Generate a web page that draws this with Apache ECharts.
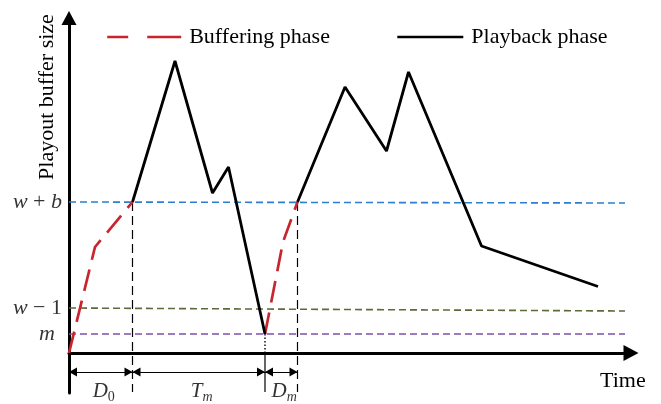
<!DOCTYPE html>
<html><head><meta charset="utf-8">
<script src="https://cdn.jsdelivr.net/npm/echarts@6/dist/echarts.min.js"></script>
<style>html,body{margin:0;padding:0;background:#fff}#c{width:661px;height:404px}</style>
</head><body><div id="c"></div>
<script>
const bufferTime1 = [0, 2.6, 6.35];
const bufferSize1 = [0, 10.6, 15.1];
const playTime1 = [6.35, 10.6, 14.35, 15.95, 19.6];
const playSize1 = [15.1, 29.2, 16.0, 18.6, 1.9];
const bufferTime2 = [19.6, 21.4, 22.85];
const bufferSize2 = [1.9, 11.1, 15.1];
const playTime2 = [22.85, 27.6, 31.75, 33.95, 41.25, 52.9];
const playSize2 = [15.1, 26.6, 20.2, 28.1, 10.7, 6.65];
// threshold levels
const levelNames = ['w + b', 'w − 1', 'm'];
const levelStartSize = [15.1, 4.5, 1.9];
const levelEndSize = [15.0, 4.2, 1.9];
const levelEndTime = 55.6;
// phase boundaries and interval labels
const phaseBounds = [0, 6.35, 19.6, 22.85];
const phaseMain = ['D', 'T', 'D'];
const phaseSub = ['0', 'm', 'm'];

const FONT = 'Liberation Serif';
const levelColors = ['#2a7fcf', '#5b6b3a', '#7f4fad'];
const zip = (a, b) => a.map((v, i) => [v, b[i]]);
const ARROW_Y = -1.9, GUIDE_BOTTOM = -3.9;

const series = [];
levelNames.forEach((n, i) => {
  series.push({
    type: 'line', silent: true, symbol: 'none', z: 1,
    data: [[0, levelStartSize[i]], [levelEndTime, levelEndSize[i]]],
    lineStyle: { color: levelColors[i], width: 1.6, type: [7, 4] }
  });
});
// vertical guides
[phaseBounds[1], phaseBounds[3]].forEach(t => {
  series.push({
    type: 'line', silent: true, symbol: 'none', z: 1,
    data: [[t, levelStartSize[0]], [t, GUIDE_BOTTOM]],
    lineStyle: { color: '#000', width: 1.2, type: [9, 5] }
  });
});
series.push({
  type: 'line', silent: true, symbol: 'none', z: 1,
  data: [[phaseBounds[2], levelStartSize[2]], [phaseBounds[2], 0]],
  lineStyle: { color: '#000', width: 1.4, type: [1.5, 2] }
});
series.push({
  type: 'line', silent: true, symbol: 'none', z: 1,
  data: [[phaseBounds[2], 0], [phaseBounds[2], GUIDE_BOTTOM]],
  lineStyle: { color: '#000', width: 1.2 }
});
// phases
const bufStyle = { color: '#c8262e', width: 2.7, type: [22, 10] };
const playStyle = { color: '#000', width: 2.8 };
series.push({ name: 'Buffering phase', type: 'line', symbol: 'none', z: 3, color: '#c8262e', data: zip(bufferTime1, bufferSize1), lineStyle: bufStyle });
series.push({ name: 'Buffering phase', type: 'line', symbol: 'none', z: 3, color: '#c8262e', data: zip(bufferTime2, bufferSize2), lineStyle: bufStyle });
series.push({ name: 'Playback phase', type: 'line', symbol: 'none', z: 4, color: '#000', data: zip(playTime1, playSize1), lineStyle: playStyle });
series.push({ name: 'Playback phase', type: 'line', symbol: 'none', z: 4, color: '#000', data: zip(playTime2, playSize2), lineStyle: playStyle });
// level labels
series.push({
  type: 'scatter', symbolSize: 0, silent: true,
  data: levelNames.map((n, i) => ({
    value: [0, levelStartSize[i]],
    label: { distance: n === 'm' ? 14 : 7 }
  })),
  label: {
    show: true, position: 'left', color: '#000', fontFamily: FONT, fontSize: 22,
    formatter: p => levelNames[p.dataIndex].replace(/([a-z])/g, '{i|$1}'),
    rich: { i: { fontStyle: 'italic', fontFamily: FONT, fontSize: 22, color: '#000' } }
  }
});
// dimension arrows
series.push({
  type: 'line', data: [], silent: true,
  markLine: {
    silent: true, animation: false,
    symbol: ['triangle', 'triangle'], symbolSize: [9, 8],
    symbolOffset: [[0, 4], [0, 4]],
    lineStyle: { color: '#000', width: 1.2, type: 'solid' },
    label: { show: false },
    data: phaseMain.map((m, i) => [{ coord: [phaseBounds[i], ARROW_Y] }, { coord: [phaseBounds[i + 1], ARROW_Y] }])
  }
});
// phase labels
series.push({
  type: 'scatter', symbolSize: 0, silent: true,
  data: phaseMain.map((m, i) => [(phaseBounds[i] + phaseBounds[i + 1]) / 2, ARROW_Y]),
  label: {
    show: true, position: 'inside', offset: [3, 19], color: '#000',
    formatter: p => '{d|' + phaseMain[p.dataIndex] + '}' + (/[a-z]/.test(phaseSub[p.dataIndex]) ? '{si|' : '{sn|') + phaseSub[p.dataIndex] + '}',
    rich: {
      d: { fontFamily: FONT, fontStyle: 'italic', fontSize: 21, lineHeight: 21, verticalAlign: 'top', color: '#000' },
      si: { fontFamily: FONT, fontStyle: 'italic', fontSize: 14, lineHeight: 14, padding: [12, 0, 0, 0], color: '#000' },
      sn: { fontFamily: FONT, fontSize: 14, lineHeight: 14, padding: [12, 0, 0, 0], color: '#000' }
    }
  }
});

const legendText = { fontFamily: FONT, fontSize: 22, color: '#000', padding: [0, 0, 0, 3] };
const hiddenSymbol = { opacity: 0, color: 'rgba(0,0,0,0)', borderWidth: 0 };
const option = {
  animation: false,
  backgroundColor: '#fff',
  grid: { left: 69, top: 18, width: 562, height: 375, containLabel: false, outerBoundsMode: 'none' },
  xAxis: {
    type: 'value', min: 0, max: 56.2,
    axisLine: { show: true, onZero: true, symbol: ['none', 'triangle'], symbolSize: [16, 15], lineStyle: { color: '#000', width: 3 } },
    axisTick: { show: false }, axisLabel: { show: false }, splitLine: { show: false }
  },
  yAxis: {
    type: 'value', min: -4, max: 33.5,
    axisLine: { show: true, onZero: false, symbol: ['none', 'triangle'], symbolSize: [15, 14], lineStyle: { color: '#000', width: 3 } },
    axisTick: { show: false }, axisLabel: { show: false }, splitLine: { show: false }
  },
  legend: [
    { data: [{ name: 'Buffering phase', lineStyle: { type: [21, 19, 40], width: 2.4 }, itemStyle: hiddenSymbol }], left: 106, top: 26, padding: 0, itemWidth: 74, itemHeight: 14, selectedMode: false, textStyle: legendText },
    { data: [{ name: 'Playback phase', lineStyle: { width: 2.6 }, itemStyle: hiddenSymbol }], left: 396, top: 26, padding: 0, itemWidth: 66, itemHeight: 14, selectedMode: false, textStyle: legendText }
  ],
  graphic: [
    { type: 'text', x: 47, y: 97, rotation: Math.PI / 2, style: { text: 'Playout buffer size', font: '22px "Liberation Serif"', fill: '#000', align: 'center', verticalAlign: 'middle' } },
    { type: 'text', x: 600, y: 381, style: { text: 'Time', font: '22px "Liberation Serif"', fill: '#000', align: 'left', verticalAlign: 'middle' } }
  ],
  series: series
};
echarts.init(document.getElementById('c')).setOption(option);
</script></body></html>
